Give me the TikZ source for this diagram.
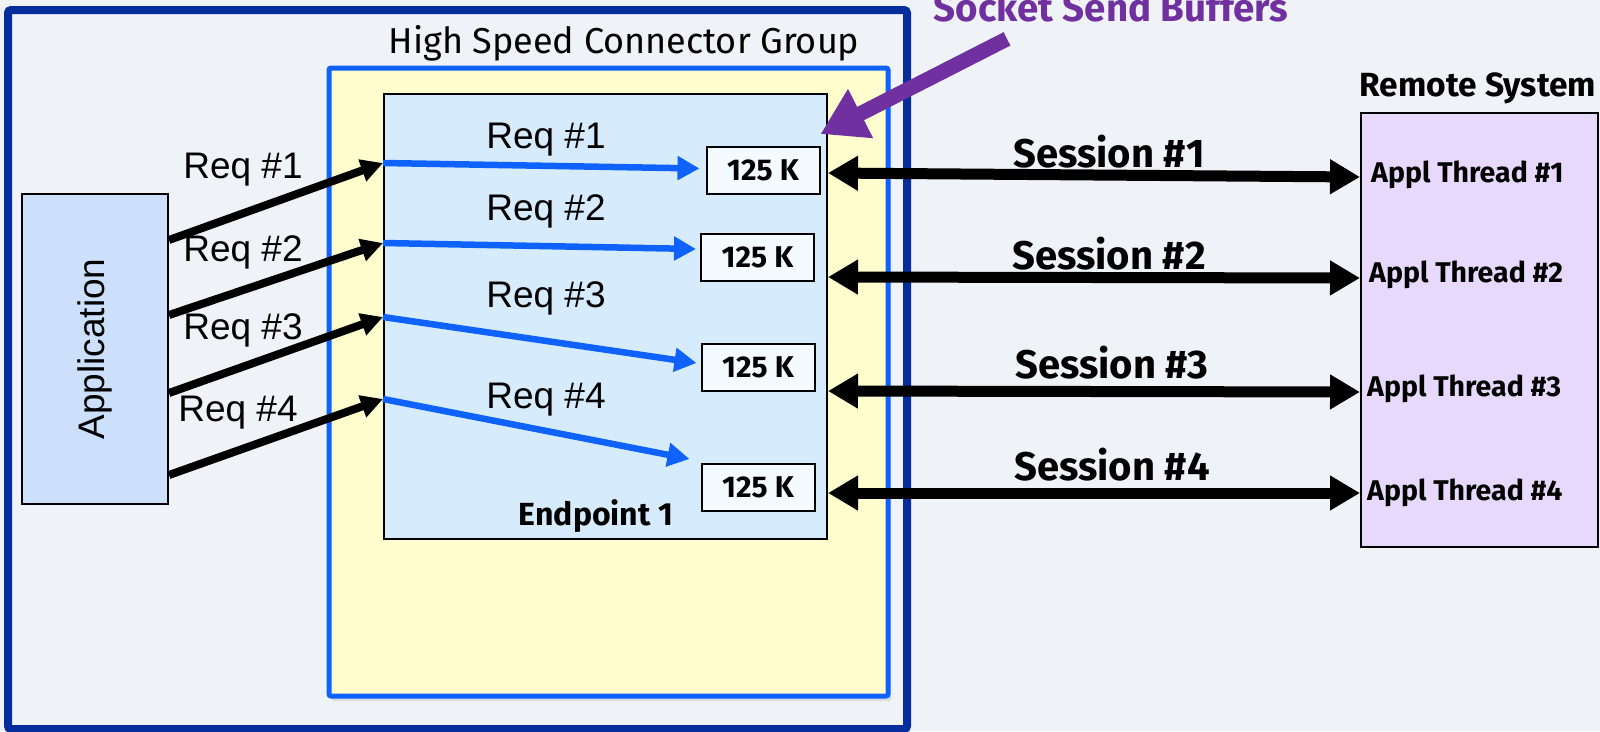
\documentclass[tikz,border=0pt]{standalone}
\usepackage{fontspec}
\setmainfont{Fira Sans}
\newfontfamily\arialfont{Liberation Sans}
\usetikzlibrary{arrows.meta,calc,positioning,shadows}
\definecolor{pagebg}{RGB}{239,243,247}
\definecolor{hsdark}{RGB}{5,45,158}
\definecolor{hsblue}{RGB}{15,98,254}
\definecolor{hsyellow}{RGB}{255,252,206}
\definecolor{epblue}{RGB}{214,236,252}
\definecolor{appblue}{RGB}{204,224,252}
\definecolor{bufwhite}{RGB}{245,250,255}
\definecolor{remlilac}{RGB}{230,217,252}
\definecolor{sockpurple}{RGB}{112,48,160}

\begin{document}
\begin{tikzpicture}[x=1pt,y=-1pt,>=Latex,
  txt/.style={inner sep=0pt},
  reqlbl/.style={txt,font=\arialfont\fontsize{37}{40}\selectfont},
  seslbl/.style={txt,font=\fontsize{40}{44}\selectfont\bfseries},
  thrlbl/.style={txt,anchor=west,font=\fontsize{28.5}{31}\selectfont\bfseries},
  buf/.style={draw,line width=2pt,fill=bufwhite,minimum width=113pt,minimum height=47pt,inner sep=0pt,font=\fontsize{30}{32}\selectfont\bfseries},
  reqarrow/.style={-{Triangle[length=22pt,width=22pt]},line width=8pt},
  bufarrow/.style={-{Triangle[length=22pt,width=23pt]},line width=6.5pt,hsblue},
  sesarrow/.style={{Triangle[length=30pt,width=33pt]}-{Triangle[length=30pt,width=33pt]},line width=11pt},
  sockarrow/.style={-{Triangle[length=45pt,width=52pt]},line width=15pt,sockpurple}]
  \path[use as bounding box,fill=pagebg] (0,0) rectangle (1600,731);

  \node[draw=hsdark,line width=8pt,rounded corners=3pt,minimum width=899pt,minimum height=719pt] (outer) at (457.5,369.5) {};
  \node[draw=hsblue,fill=hsyellow,line width=5pt,rounded corners=2pt,minimum width=559pt,minimum height=628pt,
    drop shadow={opacity=.2,shadow xshift=3pt,shadow yshift=-5pt}] (hsc) at (608.5,382) {};
  \node[txt,font=\fontsize{36}{40}\selectfont] (hsclbl) at (624,43) {High Speed Connector Group};
  \node[draw,line width=2pt,fill=epblue,minimum width=443pt,minimum height=445pt] (ep) at (605.5,316.5) {};
  \node[txt,font=\fontsize{32}{35}\selectfont\bfseries] (eplbl) at (596,516) {Endpoint 1};

  \node[draw,line width=2pt,fill=appblue,minimum width=146pt,minimum height=310pt] (app) at (95,349) {};
  \node[txt,rotate=90,font=\arialfont\fontsize{37}{40}\selectfont] (applbl) at (app.center) {Application};

  \node[buf] (b1) at (763,170.5) {125 K};
  \node[buf] (b2) at (757.5,257) {125 K};
  \node[buf] (b3) at (758,367) {125 K};
  \node[buf] (b4) at (758,487.5) {125 K};

  \node[draw,line width=2pt,fill=remlilac,minimum width=237pt,minimum height=434pt] (rs) at (1479.5,330) {};
  \node[txt,font=\fontsize{33.5}{36}\selectfont\bfseries] (rslbl) at (1478,88) {Remote System};
  \node[thrlbl] (t1) at (1371,175) {Appl Thread \#1};
  \node[thrlbl] (t2) at (1369,275) {Appl Thread \#2};
  \node[thrlbl] (t3) at (1367,389) {Appl Thread \#3};
  \node[thrlbl] (t4) at (1367,493) {Appl Thread \#4};

  \coordinate (e1) at (ep.west |- 0,163);
  \coordinate (e2) at (ep.west |- 0,243);
  \coordinate (e3) at (ep.west |- 0,317);
  \coordinate (e4) at (ep.west |- 0,399);

  \draw[reqarrow] (app.east |- 0,240) -- (e1);
  \draw[reqarrow] (app.east |- 0,315) -- (e2);
  \draw[reqarrow] (app.east |- 0,393) -- (e3);
  \draw[reqarrow] (app.east |- 0,475) -- (e4);
  \node[reqlbl] (q1) at (243,170) {Req \#1};
  \node[reqlbl] (q2) at (243,252) {Req \#2};
  \node[reqlbl] (q3) at (243,330) {Req \#3};
  \node[reqlbl] (q4) at (238,413) {Req \#4};

  \draw[bufarrow] (e1) -- ($(b1.west)+(-6,-2)$);
  \draw[bufarrow] (e2) -- ($(b2.west)+(-4,-8)$);
  \draw[bufarrow] (e3) -- ($(b3.west)+(-4,-4)$);
  \draw[bufarrow] (e4) -- ($(b4.north west)+(-11,-4)$);
  \node[reqlbl] (p1) at (546,140) {Req \#1};
  \node[reqlbl] (p2) at (546,211) {Req \#2};
  \node[reqlbl] (p3) at (546,298) {Req \#3};
  \node[reqlbl] (p4) at (546,400) {Req \#4};

  \draw[sesarrow] (ep.east |- 0,173) -- (rs.west |- 0,177);
  \draw[sesarrow] (ep.east |- 0,277) -- (rs.west |- 0,278);
  \draw[sesarrow] (ep.east |- 0,391) -- (rs.west |- 0,392);
  \draw[sesarrow] (ep.east |- 0,493) -- (rs.west |- 0,493);
  \node[seslbl] (s1) at (1109,152) {Session \#1};
  \node[seslbl] (s2) at (1109,254) {Session \#2};
  \node[seslbl] (s3) at (1112,363) {Session \#3};
  \node[seslbl] (s4) at (1112,465) {Session \#4};

  \node[txt,anchor=base,text=sockpurple,font=\fontsize{38.5}{42}\selectfont\bfseries] (sock) at (1111,21) {Socket Send Buffers};
  \draw[sockarrow] ([xshift=-104pt,yshift=-17pt]sock.south) -- ([yshift=12pt]b1.north east);
\end{tikzpicture}
\end{document}
